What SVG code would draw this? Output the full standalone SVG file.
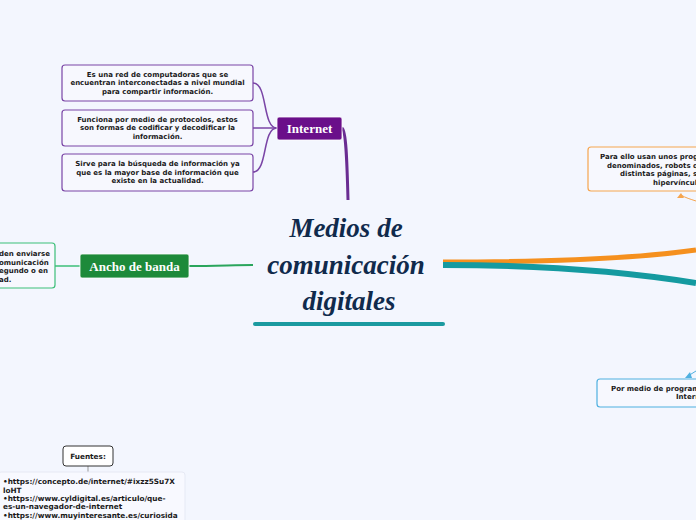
<svg xmlns="http://www.w3.org/2000/svg" width="696" height="520" viewBox="0 0 696 520">
<defs>
<style>
.bg{fill:#f3f6fe}
.t{font-family:"DejaVu Sans",Verdana,sans-serif;font-weight:bold;font-size:7px;fill:#1a1a1a}
.f{font-size:7.3px}
.tc{text-anchor:middle}
.lbl{font-family:"Liberation Serif","DejaVu Serif",serif;font-weight:bold;font-size:13px;fill:#ffffff;text-anchor:middle}
.title{font-family:"Liberation Serif","DejaVu Serif",serif;font-style:italic;font-weight:bold;font-size:27px;fill:#102a4c;text-anchor:middle}
.pbox{fill:#f7f8fe;stroke:#7a45a6;stroke-width:1.2}
</style>
</defs>
<rect class="bg" x="0" y="0" width="696" height="520"/>

<g id="connectors" fill="none">
  <path d="M342,128 C346,130 347,160 348,200" stroke="#6a2d92" stroke-width="3"/>
  <path d="M253,83 C268,83 262,128 277,128" stroke="#7a45a6" stroke-width="1.5"/>
  <path d="M253,128 L277,128" stroke="#7a45a6" stroke-width="1.5"/>
  <path d="M253,172 C268,172 262,128 277,128" stroke="#7a45a6" stroke-width="1.5"/>
  <path d="M189,266 C215,266 235,265 253,265" stroke="#2aa55c" stroke-width="2"/>
  <path d="M55,266 L80,266" stroke="#3cbf78" stroke-width="1.5"/>
  <path d="M443,262 C560,262 640,258 696,250" stroke="#f5901e" stroke-width="5"/>
  <path d="M443,265 C560,265 640,274 696,283" stroke="#149aa0" stroke-width="6"/>
  <path d="M696,201 C690,199 686,198 681,195" stroke="#f6a54e" stroke-width="1"/>
  <path d="M677,198 L681,193 L684,198 Z" fill="#f6a54e" stroke="none"/>
  <path d="M696,371 C693,373 691,374 688,376" stroke="#4fb0e0" stroke-width="1"/>
  <path d="M685,378 L690,372 L692,378 Z" fill="#4fb0e0" stroke="none"/>
  <path d="M88,466 L88,472" stroke="#999999" stroke-width="1"/>
</g>

<g id="center">
  <text class="title" x="346" y="237">Medios de</text>
  <text class="title" x="346" y="274">comunicación</text>
  <text class="title" x="349" y="310">digitales</text>
  <line x1="255" y1="324" x2="443" y2="324" stroke="#1b9aa0" stroke-width="4" stroke-linecap="round"/>
</g>

<g id="internet">
  <rect x="277" y="117" width="65" height="23" rx="2" fill="#6a0f8a" stroke="#ffffff" stroke-width="0.8"/>
  <text class="lbl" x="309.5" y="132.5">Internet</text>
</g>

<g id="internet-1">
  <rect class="pbox" x="62" y="65" width="191" height="36" rx="3"/>
  <text class="t tc" x="157.5" y="76.5">Es una red de computadoras que se</text>
  <text class="t tc" x="157.5" y="85">encuentran interconectadas a nivel mundial</text>
  <text class="t tc" x="157.5" y="93.5">para compartir información.</text>
</g>
<g id="internet-2">
  <rect class="pbox" x="62" y="110" width="191" height="36" rx="3"/>
  <text class="t tc" x="157.5" y="121.5">Funciona por medio de protocolos, estos</text>
  <text class="t tc" x="157.5" y="130">son formas de codificar y decodificar la</text>
  <text class="t tc" x="157.5" y="138.5">información.</text>
</g>
<g id="internet-3">
  <rect class="pbox" x="62" y="154" width="191" height="37" rx="3"/>
  <text class="t tc" x="157.5" y="166">Sirve para la búsqueda de información ya</text>
  <text class="t tc" x="157.5" y="174.5">que es la mayor base de información que</text>
  <text class="t tc" x="157.5" y="183">existe en la actualidad.</text>
</g>

<g id="ancho">
  <rect x="80" y="254" width="109" height="24" rx="2" fill="#1d8a3a" stroke="#ffffff" stroke-width="0.8"/>
  <text class="lbl" x="134.5" y="270.5">Ancho de banda</text>
</g>
<g id="ancho-1">
  <rect x="-5" y="243" width="60" height="45" rx="3" fill="#f7f8fe" stroke="#3cbf78" stroke-width="1.2"/>
  <text class="t" x="-1" y="256">den enviarse</text>
  <text class="t" x="-1" y="264.5">omunicación</text>
  <text class="t" x="-1" y="273">egundo o en</text>
  <text class="t" x="-1" y="281.5">ad.</text>
</g>

<g id="orange-note">
  <rect x="588" y="147" width="120" height="44" rx="3" fill="#f7f8fe" stroke="#f6a54e" stroke-width="1.2"/>
  <text class="t" x="600" y="159">Para ello usan unos prog</text>
  <text class="t" x="607" y="167.5">denominados, robots q</text>
  <text class="t" x="620" y="176">distintas páginas, s</text>
  <text class="t" x="653" y="184.5">hipervínculo</text>
</g>

<g id="blue-note">
  <rect x="597" y="379" width="110" height="28" rx="3" fill="#f7f8fe" stroke="#4fb0e0" stroke-width="1.2"/>
  <text class="t" x="611" y="390.5">Por medio de program</text>
  <text class="t" x="676" y="399">Intern</text>
</g>

<g id="fuentes">
  <rect x="63" y="446" width="50" height="20" rx="3" fill="#ffffff" stroke="#333333" stroke-width="1"/>
  <text class="t f tc" x="88" y="458.5">Fuentes:</text>
</g>
<g id="fuentes-list">
  <rect x="-2" y="472" width="187" height="60" rx="3" fill="#f8f9ff" stroke="#e6e9f4" stroke-width="1"/>
  <text class="t f" x="3" y="484">•https://concepto.de/internet/#ixzz5Su7X</text>
  <text class="t f" x="3" y="492.5">loHT</text>
  <text class="t f" x="3" y="500.5">•https://www.cyldigital.es/articulo/que-</text>
  <text class="t f" x="3" y="509">es-un-navegador-de-internet</text>
  <text class="t f" x="3" y="517.5">•https://www.muyinteresante.es/curiosida</text>
</g>
</svg>
